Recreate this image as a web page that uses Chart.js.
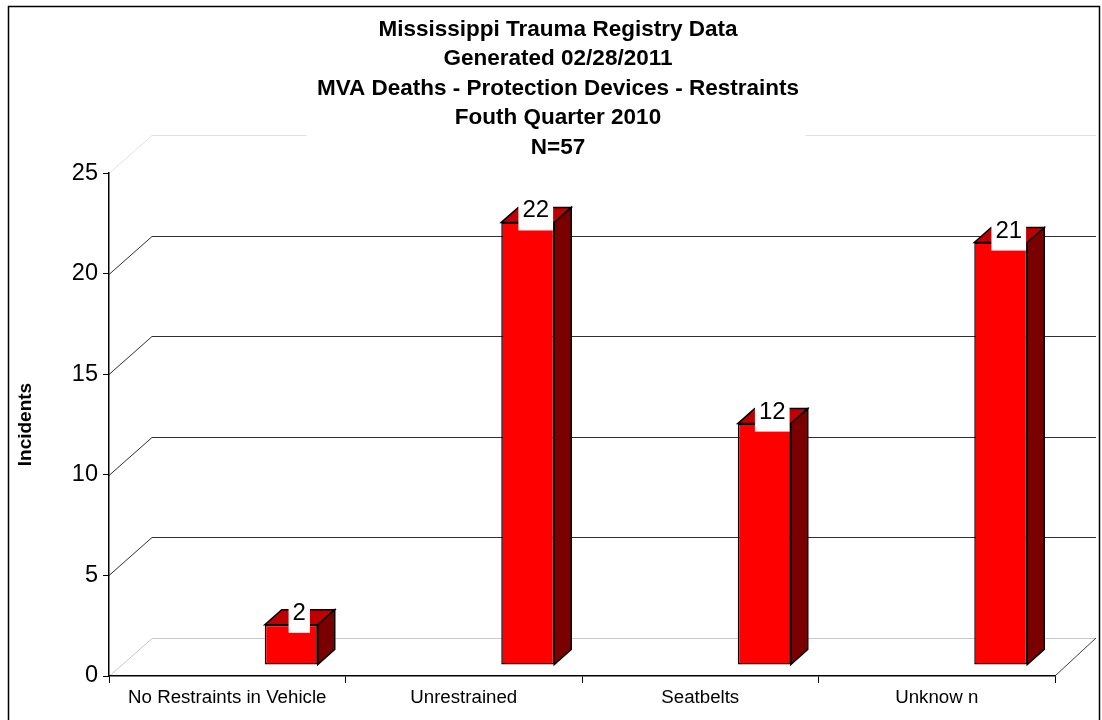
<!DOCTYPE html>
<html>
<head>
<meta charset="utf-8">
<script src="https://cdn.jsdelivr.net/npm/chart.js@4"></script>
<style>
  html, body { margin: 0; padding: 0; background: #fff; }
</style>
</head>
<body>
<canvas id="myChart" width="1102" height="720"></canvas>
<script>
const categories = ['No Restraints in Vehicle', 'Unrestrained', 'Seatbelts', 'Unknow n'];
const incidents = [2, 22, 12, 21];
const titleLines = [
    'Mississippi Trauma Registry Data',
    'Generated 02/28/2011',
    'MVA Deaths - Protection Devices - Restraints',
    'Fouth Quarter 2010',
    'N=57'
];
const yMax = 25;
const yStep = 5;

// fake excel 3d look
const DEPTH_X = 43, DEPTH_Y = -38;
const BAR_SHIFT_X = 64, BAR_SHIFT_Y = -11;
const SIDE_X = 17, SIDE_Y = -15;
const FONT = "'Liberation Sans', Arial, sans-serif";

const fake3d = {
    id: 'fake3d',
    beforeDraw(chart) {
        const {ctx, chartArea: a, scales: {y}} = chart;
        ctx.save();
        ctx.fillStyle = '#fff';
        ctx.fillRect(0, 0, chart.width, chart.height);
        ctx.strokeStyle = '#000';
        ctx.lineWidth = 1.5;
        ctx.strokeRect(8.5, 6.5, 1091, 740);

        ctx.lineWidth = 1;
        y.ticks.forEach(t => {
            const py = Math.round(y.getPixelForValue(t.value)) + 0.5;
            let col = '#303030';
            if (t.value === y.max) col = '#e2e2e2';
            else if (t.value === y.min) col = '#c8c8c8';
            ctx.strokeStyle = col;
            ctx.beginPath();
            ctx.moveTo(a.left, py);
            ctx.lineTo(a.left + DEPTH_X, py + DEPTH_Y);
            ctx.lineTo(a.right + DEPTH_X - 2, py + DEPTH_Y);
            ctx.stroke();
        });
        ctx.strokeStyle = '#404040';
        ctx.beginPath();
        ctx.moveTo(a.right, a.bottom);
        ctx.lineTo(a.right + DEPTH_X - 2, a.bottom + DEPTH_Y);
        ctx.stroke();

        // white box behind the title
        ctx.fillStyle = '#fff';
        ctx.fillRect(307, 9, 498, 151);
        ctx.restore();
    },
    beforeDatasetsDraw(chart) {
        chart.ctx.save();
        chart.ctx.translate(BAR_SHIFT_X, BAR_SHIFT_Y);
    },
    afterDatasetsDraw(chart) {
        const ctx = chart.ctx;
        const meta = chart.getDatasetMeta(0);
        ctx.lineWidth = 1.5;
        ctx.strokeStyle = '#000';
        ctx.lineJoin = 'miter';
        meta.data.forEach(bar => {
            const l = bar.x - bar.width / 2, r = bar.x + bar.width / 2;
            const t = bar.y, b = bar.base;
            // top
            ctx.beginPath();
            ctx.moveTo(l, t);
            ctx.lineTo(l + SIDE_X, t + SIDE_Y);
            ctx.lineTo(r + SIDE_X, t + SIDE_Y);
            ctx.lineTo(r, t);
            ctx.closePath();
            ctx.fillStyle = '#c00000';
            ctx.fill();
            ctx.stroke();
            // side
            ctx.beginPath();
            ctx.moveTo(r, t);
            ctx.lineTo(r + SIDE_X, t + SIDE_Y);
            ctx.lineTo(r + SIDE_X, b + SIDE_Y);
            ctx.lineTo(r, b);
            ctx.closePath();
            ctx.fillStyle = '#7a0000';
            ctx.fill();
            ctx.stroke();
        });
        ctx.restore();

        // value labels on white boxes
        ctx.save();
        ctx.font = '24px ' + FONT;
        ctx.textAlign = 'center';
        ctx.textBaseline = 'alphabetic';
        meta.data.forEach((bar, i) => {
            const txt = String(incidents[i]);
            const cx = bar.x + BAR_SHIFT_X + 8;
            const top = bar.y + BAR_SHIFT_Y;
            const w = ctx.measureText(txt).width + 8;
            ctx.fillStyle = '#fff';
            ctx.fillRect(cx - w / 2, top - 26, w, 34);
            ctx.fillStyle = '#000';
            ctx.fillText(txt, cx, top - 5);
        });
        ctx.restore();
    }
};

const ctx = document.getElementById('myChart').getContext('2d');
const chart = new Chart(ctx, {
    type: 'bar',
    data: {
        labels: categories,
        datasets: [{
            data: incidents,
            backgroundColor: '#ff0000',
            borderColor: '#000',
            borderWidth: 1.5,
            borderSkipped: false,
            categoryPercentage: 1,
            barPercentage: 0.224
        }]
    },
    options: {
        responsive: false,
        animation: false,
        layout: {padding: {left: 61, right: 47, top: 0, bottom: 0}},
        plugins: {
            legend: {display: false},
            tooltip: {enabled: false},
            title: {
                display: true,
                text: titleLines,
                color: '#000',
                font: {family: FONT, size: 22.5, weight: 'bold', lineHeight: 1.311},
                padding: {top: 14.6, bottom: 11}
            }
        },
        scales: {
            x: {
                grid: {display: true, drawOnChartArea: false, drawTicks: true, tickLength: 7, color: '#000', offset: true},
                border: {display: true, color: '#000', width: 1.5},
                ticks: {color: '#000', font: {family: FONT, size: 18.7}, padding: 4, maxRotation: 0, autoSkip: false},
                afterFit(s) { s.height = 44; }
            },
            y: {
                min: 0,
                max: yMax,
                ticks: {stepSize: yStep, color: '#000', font: {family: FONT, size: 23.5}, padding: 5},
                grid: {drawOnChartArea: false, drawTicks: true, tickLength: 6, color: '#000'},
                border: {display: true, color: '#000', width: 1.5},
                title: {
                    display: true,
                    text: 'Incidents',
                    color: '#000',
                    font: {family: FONT, size: 19, weight: 'bold'},
                    padding: {top: -46.4, bottom: 0}
                },
                afterFit(s) { s.width = 48; }
            }
        }
    },
    plugins: [fake3d]
});
</script>
</body>
</html>
